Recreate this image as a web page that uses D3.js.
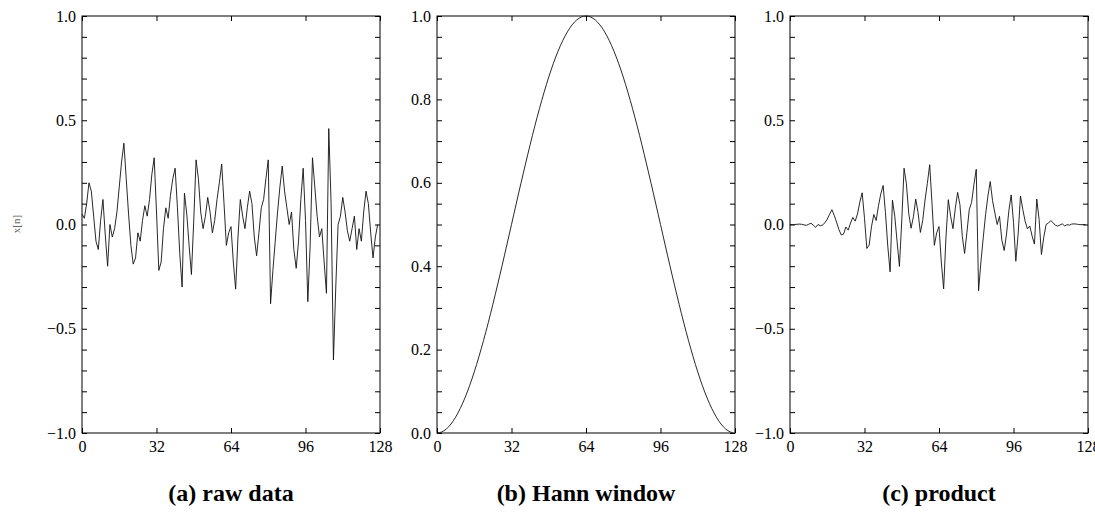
<!DOCTYPE html>
<html>
<head>
<meta charset="utf-8">
<script src="https://cdn.jsdelivr.net/npm/d3@7"></script>
<style>
  body { margin: 0; background: #fff; }
  svg { display: block; font-family: "Liberation Serif", "DejaVu Serif", serif; }
  .tick line { stroke: #000; stroke-width: 1; }
  .tick text { font-family: "Liberation Serif", "DejaVu Serif", serif; font-size: 16px; fill: #000; }
  .caption { font-size: 24px; font-weight: bold; fill: #000; }
  .frame { fill: none; stroke: #000; stroke-width: 1; }
  .trace { fill: none; stroke: #111; stroke-width: 0.9; }
</style>
</head>
<body>
<svg id="chart" width="1095" height="527"></svg>
<script>
"use strict";

// samples 0..127 of the raw signal
const rawData = [
  0.05, 0.03, 0.10, 0.20, 0.16, 0.04, -0.08, -0.12, 0.02, 0.12,
  -0.05, -0.20, 0.00, -0.06, -0.02, 0.06, 0.18, 0.30, 0.39, 0.22,
  0.05, -0.10, -0.19, -0.16, -0.04, -0.08, 0.02, 0.09, 0.04, 0.12,
  0.24, 0.32, 0.06, -0.22, -0.18, -0.02, 0.08, 0.03, 0.14, 0.22,
  0.27, 0.08, -0.14, -0.30, 0.15, 0.05, -0.10, -0.24, 0.02, 0.31,
  0.22, 0.06, -0.02, 0.04, 0.13, 0.06, -0.04, 0.02, 0.12, 0.20,
  0.29, 0.10, -0.10, -0.04, -0.01, -0.18, -0.31, -0.06, 0.12, 0.04,
  -0.02, 0.08, 0.16, 0.10, -0.06, -0.15, -0.04, 0.08, 0.12, 0.22,
  0.31, -0.38, -0.22, -0.08, 0.06, 0.18, 0.28, 0.16, 0.08, 0.00,
  0.06, -0.12, -0.21, -0.08, 0.12, 0.27, 0.02, -0.37, -0.10, 0.32,
  0.18, 0.04, -0.06, -0.02, -0.18, -0.33, 0.46, 0.10, -0.65, -0.30,
  0.00, 0.04, 0.13, 0.06, -0.03, -0.08, -0.02, 0.04, -0.12, -0.02,
  -0.08, 0.06, 0.16, 0.10, -0.04, -0.16, -0.06, 0.00
];

// Hann window values, panel (b)
const hannData = [
  0.0000, 0.0006, 0.0024, 0.0054, 0.0096, 0.0150, 0.0215, 0.0292, 0.0381, 0.0480,
  0.0590, 0.0711, 0.0843, 0.0984, 0.1135, 0.1295, 0.1464, 0.1642, 0.1828, 0.2022,
  0.2222, 0.2430, 0.2643, 0.2862, 0.3087, 0.3316, 0.3549, 0.3785, 0.4024, 0.4266,
  0.4510, 0.4755, 0.5000, 0.5245, 0.5490, 0.5734, 0.5976, 0.6215, 0.6451, 0.6684,
  0.6913, 0.7138, 0.7357, 0.7570, 0.7778, 0.7978, 0.8172, 0.8358, 0.8536, 0.8705,
  0.8865, 0.9016, 0.9157, 0.9289, 0.9410, 0.9520, 0.9619, 0.9708, 0.9785, 0.9850,
  0.9904, 0.9946, 0.9976, 0.9994, 1.0000, 0.9994, 0.9976, 0.9946, 0.9904, 0.9850,
  0.9785, 0.9708, 0.9619, 0.9520, 0.9410, 0.9289, 0.9157, 0.9016, 0.8865, 0.8705,
  0.8536, 0.8358, 0.8172, 0.7978, 0.7778, 0.7570, 0.7357, 0.7138, 0.6913, 0.6684,
  0.6451, 0.6215, 0.5976, 0.5734, 0.5490, 0.5245, 0.5000, 0.4755, 0.4510, 0.4266,
  0.4024, 0.3785, 0.3549, 0.3316, 0.3087, 0.2862, 0.2643, 0.2430, 0.2222, 0.2022,
  0.1828, 0.1642, 0.1464, 0.1295, 0.1135, 0.0984, 0.0843, 0.0711, 0.0590, 0.0480,
  0.0381, 0.0292, 0.0215, 0.0150, 0.0096, 0.0054, 0.0024, 0.0006
];

// windowed signal, panel (c)
const productData = [
  0.000, 0.000, 0.000, 0.001, 0.002, 0.001, -0.002, -0.004, 0.001, 0.006,
  -0.003, -0.014, 0.000, -0.006, -0.002, 0.008, 0.026, 0.049, 0.071, 0.044,
  0.011, -0.024, -0.050, -0.046, -0.012, -0.027, 0.007, 0.034, 0.016, 0.051,
  0.108, 0.152, 0.030, -0.115, -0.099, -0.011, 0.048, 0.019, 0.090, 0.147,
  0.187, 0.057, -0.103, -0.227, 0.117, 0.040, -0.082, -0.201, 0.017, 0.270,
  0.195, 0.054, -0.018, 0.037, 0.122, 0.057, -0.038, 0.019, 0.117, 0.197,
  0.287, 0.099, -0.100, -0.040, -0.010, -0.180, -0.309, -0.060, 0.119, 0.039,
  -0.020, 0.078, 0.154, 0.095, -0.056, -0.139, -0.037, 0.072, 0.106, 0.192,
  0.265, -0.318, -0.180, -0.064, 0.047, 0.136, 0.206, 0.114, 0.055, 0.000,
  0.039, -0.075, -0.125, -0.046, 0.066, 0.142, 0.010, -0.176, -0.045, 0.137,
  0.072, 0.015, -0.021, -0.007, -0.056, -0.094, 0.122, 0.024, -0.144, -0.061,
  0.000, 0.007, 0.019, 0.008, -0.003, -0.008, -0.002, 0.003, -0.007, -0.001,
  -0.003, 0.002, 0.003, 0.002, 0.000, -0.001, 0.000, 0.000
];

const xTicks = [0, 32, 64, 96, 128];
const yMajorSigned = [-1, -0.5, 0, 0.5, 1];
const yMinorSigned = [-1, -0.9, -0.8, -0.7, -0.6, -0.5, -0.4, -0.3, -0.2, -0.1, 0,
                      0.1, 0.2, 0.3, 0.4, 0.5, 0.6, 0.7, 0.8, 0.9, 1];
const yMajorUnit = [0, 0.2, 0.4, 0.6, 0.8, 1];
const yMinorUnit = [0, 0.05, 0.1, 0.15, 0.2, 0.25, 0.3, 0.35, 0.4, 0.45, 0.5,
                    0.55, 0.6, 0.65, 0.7, 0.75, 0.8, 0.85, 0.9, 0.95, 1];
const captions = ["(a) raw data", "(b) Hann window", "(c) product"];

const panels = [
  {left: 82,  data: rawData,     domain: [-1, 1], major: yMajorSigned, minor: yMinorSigned},
  {left: 437, data: hannData,    domain: [0, 1],  major: yMajorUnit,   minor: yMinorUnit},
  {left: 790, data: productData, domain: [-1, 1], major: yMajorSigned, minor: yMinorSigned}
];

const W = 298, plotTop = 16, H = 417, tickLen = 5;
const svg = d3.select("#chart");
const fmt = d3.format(".1f");

panels.forEach((p, i) => {
  const g = svg.append("g").attr("transform", `translate(${p.left},${plotTop})`);
  const x = d3.scaleLinear().domain([0, 128]).range([0, W]);
  const y = d3.scaleLinear().domain(p.domain).range([H, 0]);

  // inward ticks on all four sides, labels only left and bottom
  g.append("g")
    .call(d3.axisLeft(y).tickValues(p.minor).tickSize(-tickLen).tickPadding(6)
      .tickFormat(d => p.major.includes(d) ? fmt(d) : ""));
  g.append("g").attr("transform", `translate(${W},0)`)
    .call(d3.axisRight(y).tickValues(p.minor).tickSize(-tickLen).tickFormat(""));
  g.append("g").attr("transform", `translate(0,${H})`)
    .call(d3.axisBottom(x).tickValues(xTicks).tickSize(-tickLen).tickPadding(8));
  g.append("g")
    .call(d3.axisTop(x).tickValues(xTicks).tickSize(-tickLen).tickFormat(""));
  g.selectAll(".domain").remove();

  g.append("rect").attr("class", "frame").attr("width", W).attr("height", H);

  const line = d3.line().x((d, n) => x(n)).y(d => y(d));
  g.append("path").datum(p.data).attr("class", "trace").attr("d", line);

  svg.append("text").attr("class", "caption")
    .attr("x", p.left + W / 2).attr("y", 501)
    .attr("text-anchor", "middle").text(captions[i]);
});

svg.append("text")
  .attr("transform", "translate(20,224) rotate(-90)")
  .attr("text-anchor", "middle").style("font-size", "11px").style("fill", "#666")
  .text("x[n]");
</script>
</body>
</html>
